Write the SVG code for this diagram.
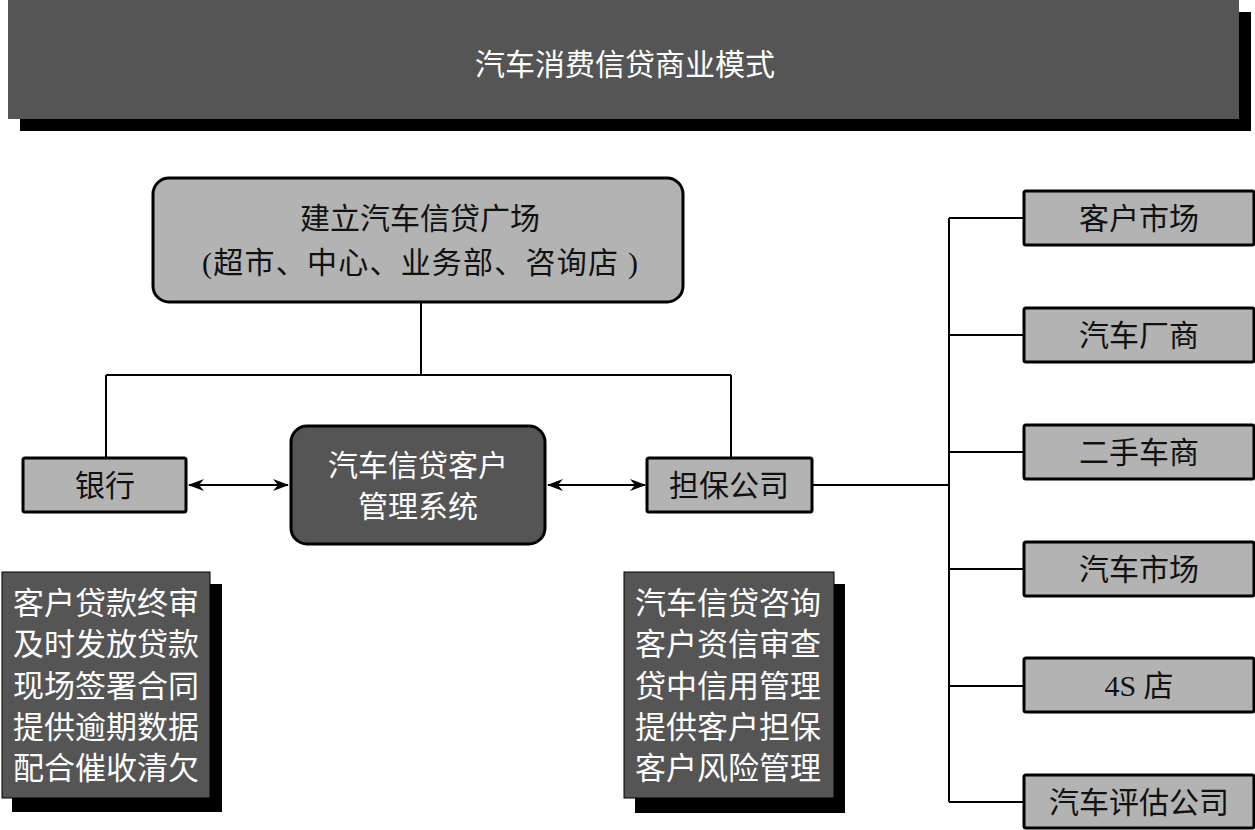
<svg xmlns="http://www.w3.org/2000/svg" width="1255" height="830" viewBox="0 0 1255 830">
<defs>
<style>
.t{font-family:"Liberation Serif","Noto Sans CJK SC",serif;font-size:30px;text-anchor:middle;dominant-baseline:central;fill:#111}
.w{fill:#fff}
.lt{fill:#b3b3b3;stroke:#000;stroke-width:3}
.dk{fill:#555;stroke:#000;stroke-width:3}
.ln{fill:none;stroke:#000;stroke-width:2}
.sh{fill:#000}
.pl{font-family:"Liberation Serif","Noto Sans CJK SC",serif;font-size:31px;fill:#fff;dominant-baseline:central}
</style>
<marker id="ah" viewBox="0 0 16 12" refX="15" refY="6" markerWidth="16" markerHeight="12" markerUnits="userSpaceOnUse" orient="auto-start-reverse">
<path d="M0,0 L16,6 L0,12 L5,6 Z" fill="#000"/>
</marker>
</defs>
<rect width="1255" height="830" fill="#fff"/>

<g id="title">
<rect class="sh" x="20" y="12" width="1231" height="119"/>
<rect x="8" y="0" width="1231" height="119" fill="#555"/>
<text class="t w" x="625" y="64" font-size="31">汽车消费信贷商业模式</text>
</g>

<g id="connectors">
<path class="ln" d="M421,302 V375 M106,375 H731 M106,375 V457 M731,375 V457"/>
<path class="ln" d="M812,485 H949 M949,218 V802 M949,218 H1023 M949,335 H1023 M949,452 H1023 M949,569 H1023 M949,686 H1023 M949,802 H1023"/>
<line class="ln" x1="189" y1="485" x2="288" y2="485" marker-start="url(#ah)" marker-end="url(#ah)"/>
<line class="ln" x1="548" y1="485" x2="645" y2="485" marker-start="url(#ah)" marker-end="url(#ah)"/>
</g>

<g id="plaza">
<rect class="lt" x="153" y="178" width="530" height="124" rx="16"/>
<text class="t" x="420" y="218">建立汽车信贷广场</text>
<text class="t" x="420" y="262" textLength="436" lengthAdjust="spacing">(超市、中心、业务部、咨询店 )</text>
</g>

<g id="bank">
<rect class="lt" x="23" y="458" width="163" height="54" rx="2"/>
<text class="t" x="105" y="485">银行</text>
</g>

<g id="system">
<rect class="dk" x="291" y="426" width="254" height="118" rx="16"/>
<text class="t w" x="418" y="465">汽车信贷客户</text>
<text class="t w" x="418" y="506">管理系统</text>
</g>

<g id="guarantee">
<rect class="lt" x="647" y="458" width="165" height="54" rx="2"/>
<text class="t" x="729" y="485">担保公司</text>
</g>

<g id="customer-market">
<rect class="lt" x="1024" y="191" width="230" height="54" rx="2"/>
<text class="t" x="1139" y="218">客户市场</text>
</g>
<g id="maker">
<rect class="lt" x="1024" y="308" width="230" height="54" rx="2"/>
<text class="t" x="1139" y="335">汽车厂商</text>
</g>
<g id="used-dealer">
<rect class="lt" x="1024" y="425" width="230" height="54" rx="2"/>
<text class="t" x="1139" y="452">二手车商</text>
</g>
<g id="car-market">
<rect class="lt" x="1024" y="542" width="230" height="54" rx="2"/>
<text class="t" x="1139" y="569">汽车市场</text>
</g>
<g id="store-4s">
<rect class="lt" x="1024" y="658" width="230" height="54" rx="2"/>
<text class="t" x="1139" y="685">4S 店</text>
</g>
<g id="appraisal">
<rect class="lt" x="1024" y="775" width="230" height="53" rx="2"/>
<text class="t" x="1139" y="802">汽车评估公司</text>
</g>

<g id="bank-duties">
<rect class="sh" x="12" y="584" width="210" height="228"/>
<rect x="2" y="572" width="208" height="226" fill="#555" stroke="#000" stroke-width="1"/>
<text class="pl" x="13" y="603">客户贷款终审</text>
<text class="pl" x="13" y="644">及时发放贷款</text>
<text class="pl" x="13" y="686">现场签署合同</text>
<text class="pl" x="13" y="727">提供逾期数据</text>
<text class="pl" x="13" y="768">配合催收清欠</text>
</g>

<g id="guarantee-duties">
<rect class="sh" x="635" y="584" width="210" height="229"/>
<rect x="624" y="572" width="210" height="226" fill="#555" stroke="#000" stroke-width="1"/>
<text class="pl" x="635" y="603">汽车信贷咨询</text>
<text class="pl" x="635" y="644">客户资信审查</text>
<text class="pl" x="635" y="686">贷中信用管理</text>
<text class="pl" x="635" y="727">提供客户担保</text>
<text class="pl" x="635" y="768">客户风险管理</text>
</g>
</svg>
